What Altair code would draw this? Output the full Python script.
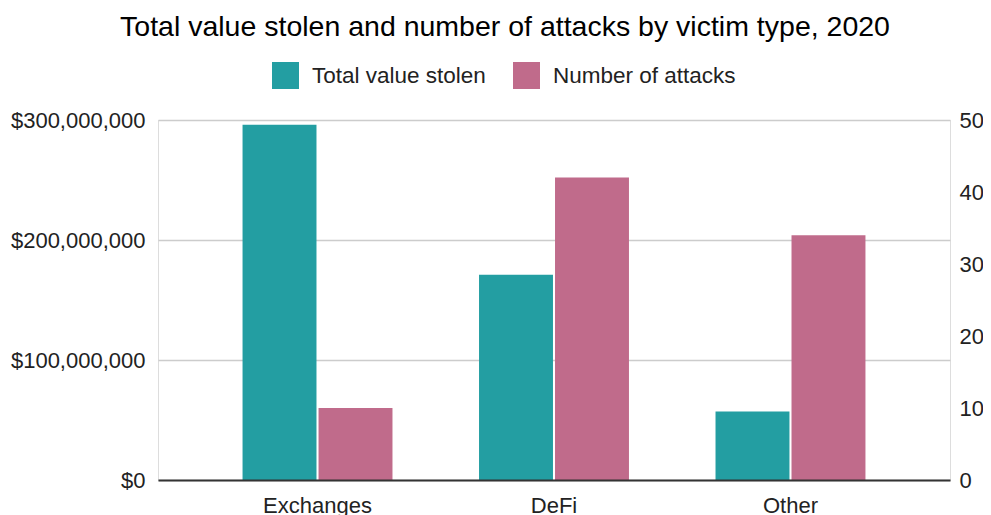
import altair as alt
import pandas as pd

categories = ["Exchanges", "DeFi", "Other"]
series_names = ["Total value stolen", "Number of attacks"]
value_stolen = [296000000, 171000000, 57000000]
num_attacks = [10, 42, 34]
colors = ["#239ea2", "#c06b8b"]
money_ticks = [0, 100000000, 200000000, 300000000]
count_ticks = [0, 10, 20, 30, 40, 50]

rows = []
for c, v, n in zip(categories, value_stolen, num_attacks):
    rows.append({"category": c, "series": series_names[0], "value": v})
    rows.append({"category": c, "series": series_names[1], "value": n})
df = pd.DataFrame(rows)

FONT = "Liberation Sans"

x_enc = alt.X(
    "category:N",
    sort=categories,
    scale=alt.Scale(paddingInner=0.366, paddingOuter=0.3575),
    axis=alt.Axis(
        title=None, labelAngle=0, labelFontSize=22, labelFont=FONT,
        labelColor="#222222", ticks=False, domainColor="#333333",
        domainWidth=2, labelPadding=15, zindex=2, grid=False,
    ),
)
xoff_enc = alt.XOffset(
    "series:N", sort=series_names,
    scale=alt.Scale(domain=series_names, paddingInner=0.027),
)
color_enc = alt.Color(
    "series:N",
    scale=alt.Scale(domain=series_names, range=colors),
    legend=alt.Legend(
        title=None, orient="none", direction="horizontal",
        legendX=114, legendY=-58, symbolType="square", symbolSize=729,
        symbolStrokeWidth=0, labelFontSize=22.5, labelFont=FONT,
        labelColor="#222222", labelOffset=13, columnPadding=27,
        symbolOpacity=1, labelLimit=0,
    ),
)

base = alt.Chart(df).encode(x=x_enc, xOffset=xoff_enc, color=color_enc)

left = base.transform_filter(alt.datum.series == series_names[0]).mark_bar(opacity=1).encode(
    y=alt.Y(
        "value:Q",
        scale=alt.Scale(domain=[0, 300000000], nice=False),
        axis=alt.Axis(
            title=None, values=money_ticks, format="$,.0f", labelFontSize=22,
            labelFont=FONT, labelColor="#222222", ticks=False, domain=False,
            grid=True, gridColor="#cccccc", gridWidth=1.5, labelPadding=13,
        ),
    )
)

right = base.transform_filter(alt.datum.series == series_names[1]).mark_bar(opacity=1).encode(
    y=alt.Y(
        "value:Q",
        scale=alt.Scale(domain=[0, 50], nice=False),
        axis=alt.Axis(
            title=None, values=count_ticks, orient="right", labelFontSize=22,
            labelFont=FONT, labelColor="#222222", ticks=False, domain=False,
            grid=False, labelPadding=9,
        ),
    )
)

chart = (
    alt.layer(left, right)
    .resolve_scale(y="independent")
    .properties(
        width=792,
        height=360,
        autosize=alt.AutoSizeParams(type="none"),
        padding={"left": 150, "top": 112, "right": 33, "bottom": 35},
        title=alt.TitleParams(
            "Total value stolen and number of attacks by victim type, 2020",
            fontSize=28.5, font=FONT, fontWeight="normal", color="#000000",
            anchor="middle", frame="group", dx=-49, offset=21,
        ),
    )
    .configure_view(strokeWidth=0, stroke="transparent")
    .configure(background="white")
)

chart.save("out.html", embed_options={"renderer": "svg", "actions": False})
